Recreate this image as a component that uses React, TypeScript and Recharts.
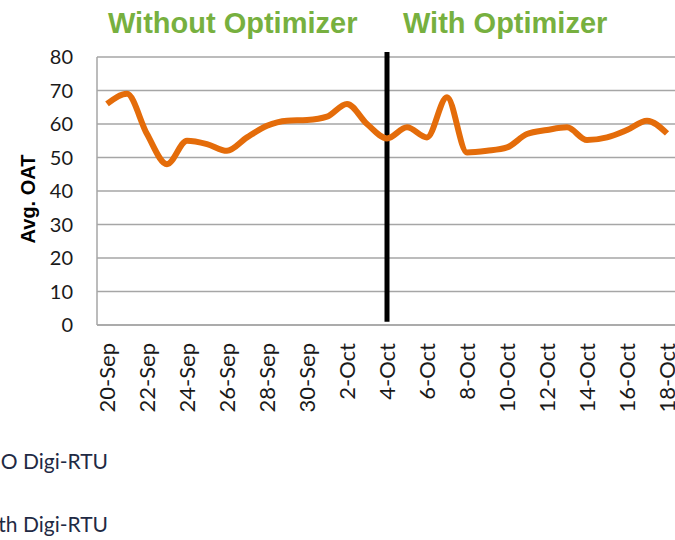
import React from "react";
import { CartesianGrid, Line, LineChart, ReferenceLine, XAxis, YAxis } from "recharts";

const dates = [
  "20-Sep", "21-Sep", "22-Sep", "23-Sep", "24-Sep", "25-Sep", "26-Sep", "27-Sep", "28-Sep", "29-Sep",
  "30-Sep", "1-Oct", "2-Oct", "3-Oct", "4-Oct", "5-Oct", "6-Oct", "7-Oct", "8-Oct", "9-Oct",
  "10-Oct", "11-Oct", "12-Oct", "13-Oct", "14-Oct", "15-Oct", "16-Oct", "17-Oct", "18-Oct",
];
const avgOat = [
  66, 69, 57, 48, 55, 54, 52, 56, 59.5, 61,
  61.2, 62.2, 66, 60, 55.7, 59, 56, 68, 51.5, 52,
  53, 57, 58.2, 59, 55.2, 56, 58.2, 61, 57.2,
];
const yTicks = [0, 10, 20, 30, 40, 50, 60, 70, 80];
const switchDate = "4-Oct";
const periodTitles = ["Without Optimizer", "With Optimizer"];
const legendLabels = ["NO Digi-RTU", "With Digi-RTU"];

const data = dates.map((d, i) => ({ date: d, oat: avgOat[i] }));

const tickFont = "Lato, 'Liberation Sans', sans-serif";
const titleStyle: React.CSSProperties = {
  position: "absolute",
  top: 7,
  color: "#77B03F",
  fontFamily: "'Liberation Sans', Arial, sans-serif",
  fontWeight: 700,
  fontSize: 29,
  whiteSpace: "nowrap",
};
const legendStyle: React.CSSProperties = {
  position: "absolute",
  right: 567,
  fontFamily: tickFont,
  fontSize: 21,
  color: "#1f2a44",
  whiteSpace: "nowrap",
};

export default function App() {
  return (
    <div
      style={{
        position: "absolute",
        left: 0,
        top: 0,
        width: 675,
        height: 540,
        overflow: "hidden",
        background: "#fff",
        fontFamily: tickFont,
      }}
    >
      <div style={{ ...titleStyle, left: 108 }}>{periodTitles[0]}</div>
      <div style={{ ...titleStyle, left: 403 }}>{periodTitles[1]}</div>

      <div style={{ position: "absolute", left: 0, top: 0 }}>
        <LineChart width={690} height={430} data={data} margin={{ top: 57, right: 13, left: 0, bottom: 0 }}>
          <CartesianGrid horizontal vertical={false} stroke="#a6a6a6" strokeWidth={1.5} />
          <XAxis
            dataKey="date"
            interval={1}
            padding={{ left: 10, right: 10 }}
            tickLine={false}
            axisLine={{ stroke: "#a6a6a6", strokeWidth: 1.5 }}
            angle={-90}
            textAnchor="end"
            tickSize={0}
            tickMargin={18}
            height={105}
            tick={{ fill: "#1a1a1a", fontSize: 22, fontFamily: tickFont, dx: -8 }}
          />
          <YAxis
            domain={[0, 80]}
            ticks={yTicks}
            interval={0}
            width={97}
            tickLine={false}
            axisLine={{ stroke: "#a6a6a6", strokeWidth: 1.5 }}
            tickSize={0}
            tickMargin={24}
            tick={{ fill: "#1a1a1a", fontSize: 20, fontFamily: tickFont }}
            label={{
              value: "Avg. OAT",
              angle: -90,
              position: "insideLeft",
              offset: 28,
              dy: 8,
              style: {
                fill: "#000",
                fontSize: 20,
                fontWeight: 700,
                fontFamily: "'Liberation Sans', Arial, sans-serif",
                textAnchor: "middle",
              },
            }}
          />
          <ReferenceLine
            segment={[
              { x: switchDate, y: 81.5 },
              { x: switchDate, y: 1 },
            ]}
            ifOverflow="visible"
            stroke="#000"
            strokeWidth={5}
          />
          <Line
            type="monotone"
            dataKey="oat"
            stroke="#E46C0A"
            strokeWidth={6}
            dot={false}
            isAnimationActive={false}
          />
        </LineChart>
      </div>

      <div style={{ ...legendStyle, top: 448 }}>{legendLabels[0]}</div>
      <div style={{ ...legendStyle, top: 511 }}>{legendLabels[1]}</div>
    </div>
  );
}
